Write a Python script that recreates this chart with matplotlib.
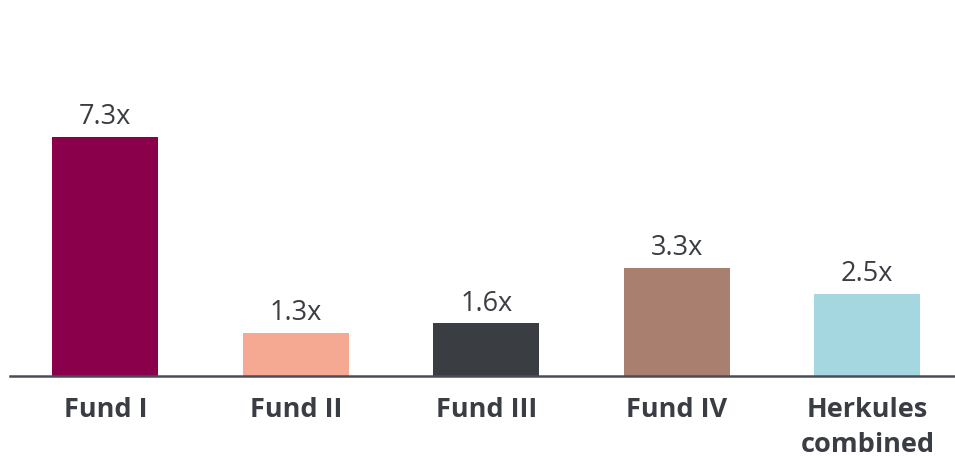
import matplotlib
matplotlib.use("Agg")
import matplotlib.pyplot as plt

# ── DATA ─────────────────────────────────────────────────────
funds    = ["Fund I", "Fund II", "Fund III", "Fund IV", "Herkules\ncombined"]
multiple = [7.3, 1.3, 1.6, 3.3, 2.5]
colours  = ["#8B004B", "#F5A992", "#3A3D42", "#A98070", "#A5D7E0"]

TXT = "#3A3D44"
plt.rcParams.update({
    "font.family": ["Open Sans", "DejaVu Sans"],
    "text.color": TXT,
})

fig = plt.figure(figsize=(9.55, 4.58), dpi=100)
ax = fig.add_axes([10 / 955, (458 - 375.5) / 458, 1 - 10 / 955, 375.5 / 458])

bars = ax.bar(range(len(funds)), multiple, width=0.556, color=colours, zorder=2)
ax.bar_label(bars, labels=[f"{v:.1f}x" for v in multiple],
             padding=4, fontsize=19.5, color=TXT)

ax.set_xlim(-0.5, 4.46)
ax.set_ylim(0, 375.5 / 32.7)

ax.set_xticks(range(len(funds)))
ax.set_xticklabels(funds, fontsize=19.5, fontweight="bold", color=TXT,
                   linespacing=1.45)
ax.tick_params(axis="x", length=0, pad=15.5)
ax.set_yticks([])

for s in ["top", "right", "left"]:
    ax.spines[s].set_visible(False)
ax.spines["bottom"].set_color("#4A4D55")
ax.spines["bottom"].set_linewidth(1.8)
ax.set_facecolor("none")

fig.savefig("out.png", dpi=100, facecolor="white")
